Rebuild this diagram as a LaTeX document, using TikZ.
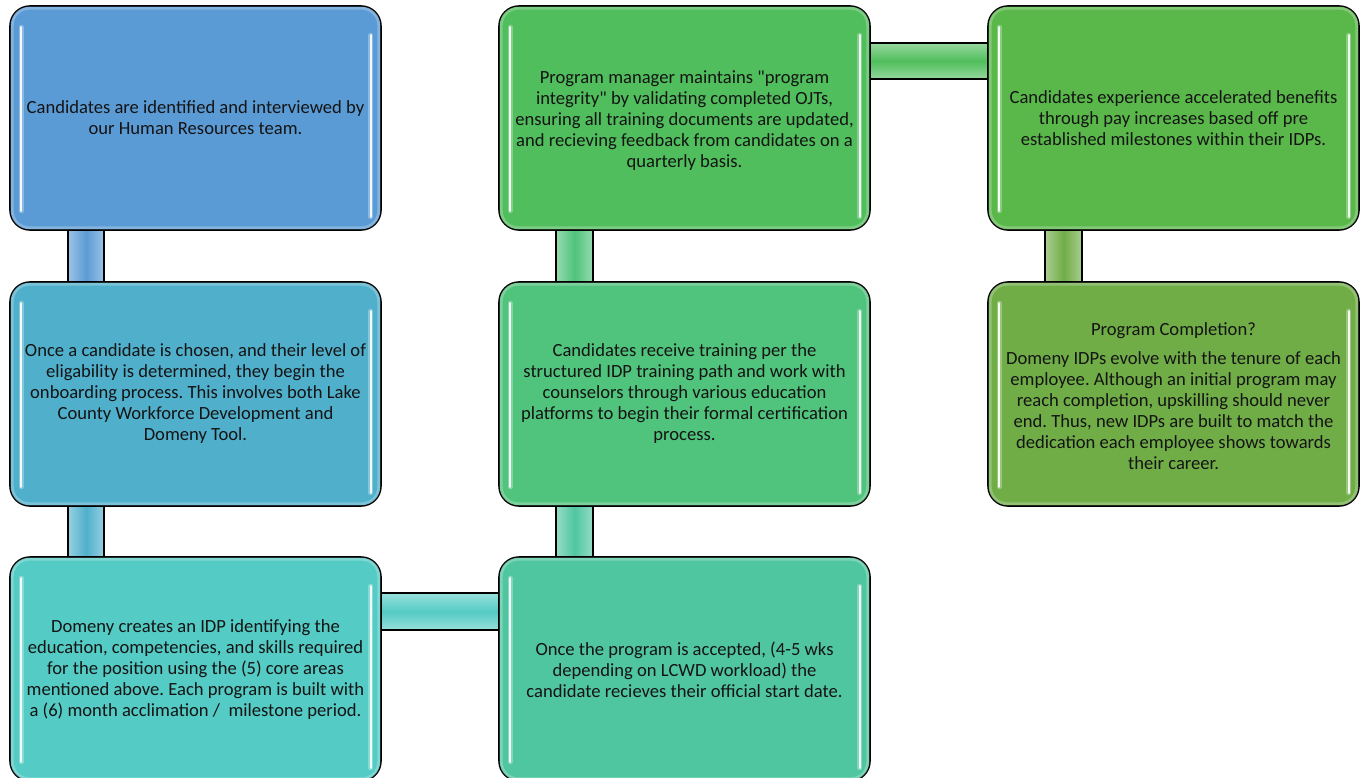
\documentclass[tikz,border=0pt]{standalone}
\usepackage{fontspec}
\setmainfont{Carlito}
\newfontfamily\plaincarlito{Carlito}
\definecolor{cA}{RGB}{91,155,213}
\definecolor{cB}{RGB}{80,176,204}
\definecolor{cC}{RGB}{84,203,196}
\definecolor{cD}{RGB}{80,198,160}
\definecolor{cE}{RGB}{80,195,124}
\definecolor{cF}{RGB}{80,190,92}
\definecolor{cG}{RGB}{90,184,74}
\definecolor{cH}{RGB}{112,173,71}
\definecolor{txt}{RGB}{20,20,20}
\newcommand\sq{{\plaincarlito"}}
\tikzset{
  box/.style={draw=black, line width=1.6pt, rounded corners=20pt, fill=#1,
    minimum width=371pt, minimum height=224pt, inner sep=0pt, align=center,
    text=txt},
  vconn/.style={draw=black, line width=1.6pt, left color=#1!60!white,
    right color=#1!60!white, middle color=#1},
  hconn/.style={draw=black, line width=1.6pt, top color=#1!60!white,
    bottom color=#1!60!white, middle color=#1},
  glosswide/.style={white, line width=5pt, line cap=round, opacity=.3},
  glossthin/.style={white, line width=2.2pt, line cap=round, opacity=.9},
  rim/.style={draw=#1!55!white, line width=3pt, opacity=.55, rounded corners=17pt}
}
\newcommand\glossbox[2]{%
  \draw[rim=#2] ([shift={(3,3)}]#1.north west) rectangle ([shift={(-3,-3)}]#1.south east);
  \draw[glosswide] ([shift={(12,22)}]#1.north west) -- ([shift={(12,-20)}]#1.south west);
  \draw[glossthin] ([shift={(12,22)}]#1.north west) -- ([shift={(12,-20)}]#1.south west);
  \draw[glosswide] ([shift={(-11,30)}]#1.north east) -- ([shift={(-11,-14)}]#1.south east);
  \draw[glossthin] ([shift={(-11,30)}]#1.north east) -- ([shift={(-11,-14)}]#1.south east);
}
\begin{document}
\frenchspacing
\begin{tikzpicture}[x=1pt,y=-1pt]
\useasboundingbox (0,0) rectangle (1364,778);
% anchor nodes (invisible)
\begin{scope}[every node/.style={opacity=0}]
\node[box=cA] (b1) at (195.5,118) {};
\node[box=cB] (b2) at (195.5,394) {};
\node[box=cC] (b3) at (195.5,669) {};
\node[box=cD] (b4) at (684.5,669) {};
\node[box=cE] (b5) at (684.5,394) {};
\node[box=cF] (b6) at (684.5,118) {};
\node[box=cG] (b7) at (1173.5,118) {};
\node[box=cH] (b8) at (1173.5,394) {};
\end{scope}
% connectors
\path[vconn=cA] ([shift={(59,-6)}]b1.south west) rectangle ([shift={(95,6)}]b2.north west);
\path[vconn=cB] ([shift={(59,-6)}]b2.south west) rectangle ([shift={(95,6)}]b3.north west);
\path[hconn=cC] ([shift={(-6,37)}]b3.north east) rectangle ([shift={(6,74)}]b4.north west);
\path[vconn=cD] ([shift={(58,6)}]b4.north west) rectangle ([shift={(95,-6)}]b5.south west);
\path[vconn=cE] ([shift={(58,6)}]b5.north west) rectangle ([shift={(95,-6)}]b6.south west);
\path[hconn=cF] ([shift={(-6,38)}]b6.north east) rectangle ([shift={(6,74)}]b7.north west);
\path[vconn=cH] ([shift={(58,-6)}]b7.south west) rectangle ([shift={(95,6)}]b8.north west);
% visible boxes
\node[box=cA] (n1) at (b1) {};
\glossbox{n1}{cA}
\node[box=cB] (n2) at (b2) {};
\glossbox{n2}{cB}
\node[box=cC] (n3) at (b3) {};
\glossbox{n3}{cC}
\node[box=cD] (n4) at (b4) {};
\glossbox{n4}{cD}
\node[box=cE] (n5) at (b5) {};
\glossbox{n5}{cE}
\node[box=cF] (n6) at (b6) {};
\glossbox{n6}{cF}
\node[box=cG] (n7) at (b7) {};
\glossbox{n7}{cG}
\node[box=cH] (n8) at (b8) {};
\glossbox{n8}{cH}
% texts
\begin{scope}[every node/.style={align=center, text=txt, font=\fontsize{18.6}{21}\selectfont, inner sep=0pt}]
\node (t1) at (b1) {Candidates are identified and interviewed by\\our Human Resources team.};
\node (t2) at (b2) {Once a candidate is chosen, and their level of\\eligability is determined, they begin the\\onboarding process. This involves both Lake\\County Workforce Development and\\Domeny Tool.};
\node (t3) at ([yshift=-1]b3) {Domeny creates an IDP identifying the\\education, competencies, and skills required\\for the position using the (5) core areas\\mentioned above. Each program is built with\\a (6) month acclimation /\ \ milestone period.};
\node (t4) at ([yshift=-1]b4) {Once the program is accepted, (4-5 wks\\depending on LCWD workload) the\\candidate recieves their official start date.};
\node (t5) at (b5) {Candidates receive training per the\\structured IDP training path and work with\\counselors through various education\\platforms to begin their formal certification\\process.};
\node (t6) at ([yshift=-3]b6) {Program manager maintains \sq program\\integrity\sq{} by validating completed OJTs,\\ensuring all training documents are updated,\\and recieving feedback from candidates on a\\quarterly basis.};
\node (t7) at (b7) {Candidates experience accelerated benefits\\through pay increases based off pre\\established milestones within their IDPs.};
\node (t8) at ([yshift=-2]b8) {Program Completion?\\[8pt]Domeny IDPs evolve with the tenure of each\\employee. Although an initial program may\\reach completion, upskilling should never\\end. Thus, new IDPs are built to match the\\dedication each employee shows towards\\their career.};
\end{scope}
\end{tikzpicture}
\end{document}
